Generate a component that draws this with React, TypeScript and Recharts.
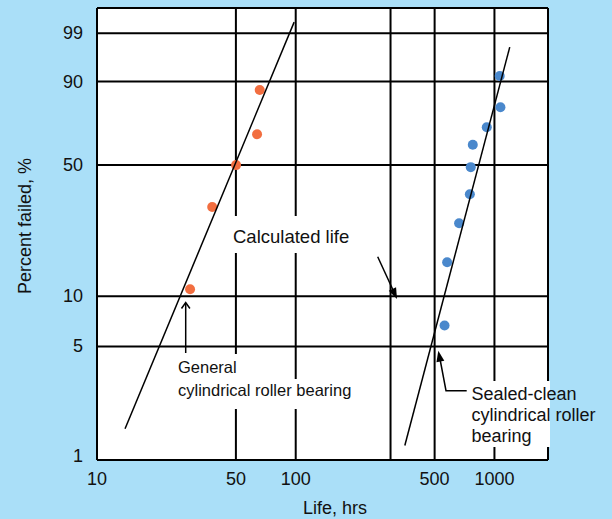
import { ComposedChart, Scatter, XAxis, YAxis, ReferenceLine, CartesianGrid } from 'recharts';

// Weibull probability transform, percent -> ln(-ln(1 - F))
const weib = (p: number) => Math.log(-Math.log(1 - p / 100));

const generalLife = [29.4, 38.0, 50.1, 63.9, 65.9];
const generalPct = [11, 31.6, 50, 66, 87];
const sealedLife = [561, 578, 664, 752, 760, 778, 915, 1072, 1063];
const sealedPct = [6.7, 15.8, 26, 36.6, 49, 60.5, 69.7, 79.6, 91.7];

const generalFitLife = [13.84, 98.2];
const generalFitPct = [1.56, 99.55];
const sealedFitLife = [354, 1194];
const sealedFitPct = [1.23, 97.7];

const xTicks = [10, 50, 100, 500, 1000];
const xGrid = [50, 100, 300, 500, 1000];
const yTicks = [1, 5, 10, 50, 90, 99];
const yGrid = [5, 10, 50, 90, 99];
const xDomain: [number, number] = [10, 1860];
const yDomain: [number, number] = [weib(1), weib(99.866)];

const FONT = '"Liberation Sans", Arial, sans-serif';

const toPoints = (life: number[], pct: number[]) => life.map((x, i) => ({ x, y: weib(pct[i]) }));

const generalData = toPoints(generalLife, generalPct);
const sealedData = toPoints(sealedLife, sealedPct);
const generalFit = toPoints(generalFitLife, generalFitPct);
const sealedFit = toPoints(sealedFitLife, sealedFitPct);

function arrowHead(x1: number, y1: number, x2: number, y2: number, len = 10, half = 4) {
  const dx = x2 - x1;
  const dy = y2 - y1;
  const d = Math.hypot(dx, dy);
  const ux = dx / d;
  const uy = dy / d;
  const bx = x2 - ux * len;
  const by = y2 - uy * len;
  return `${x2},${y2} ${bx - uy * half},${by + ux * half} ${bx + uy * half},${by - ux * half}`;
}

const dot = (color: string) => (props: any) => <circle cx={props.cx} cy={props.cy} r={5} fill={color} />;

const XTick = (props: any) => (
  <text x={props.x} y={479} textAnchor="middle" dominantBaseline="central" fontSize={18} fontFamily={FONT} fill="#111">
    {props.payload.value}
  </text>
);

const YTick = (props: any) => {
  const label = yTicks[props.index];
  return (
    <text x={83} y={props.y - (label === 1 ? 4 : 0)} textAnchor="end" dominantBaseline="central" fontSize={18} fontFamily={FONT} fill="#111">
      {label}
    </text>
  );
};

export default function App() {
  return (
    <div style={{ position: 'absolute', left: 0, top: 0, width: 612, height: 519, background: '#aadff8' }}>
      <ComposedChart width={612} height={519} margin={{ top: 8, right: 64, bottom: 29, left: 0 }}>
        <CartesianGrid horizontal={false} vertical={false} fill="#ffffff" fillOpacity={1} />
        <XAxis
          dataKey="x"
          type="number"
          scale="log"
          domain={xDomain}
          allowDataOverflow
          ticks={xTicks}
          height={30}
          axisLine={false}
          tickLine={false}
          tick={XTick}
        />
        <YAxis
          dataKey="y"
          type="number"
          domain={yDomain}
          allowDataOverflow
          ticks={yTicks.map(weib)}
          width={97}
          axisLine={false}
          tickLine={false}
          tick={YTick}
        />
        {yGrid.map((p) => (
          <ReferenceLine key={`h${p}`} y={weib(p)} stroke="#000" strokeWidth={2} />
        ))}
        {xGrid.map((v) => (
          <ReferenceLine key={`v${v}`} x={v} stroke="#000" strokeWidth={2} />
        ))}
        <ReferenceLine x={xDomain[0]} stroke="#000" strokeWidth={2} />
        <ReferenceLine x={xDomain[1]} stroke="#000" strokeWidth={2} />
        <ReferenceLine y={yDomain[0]} stroke="#000" strokeWidth={2} />
        <ReferenceLine y={yDomain[1]} stroke="#000" strokeWidth={2} />
        <Scatter data={generalData} shape={dot('#f26e40')} isAnimationActive={false} />
        <Scatter data={sealedData} shape={dot('#4a88cc')} isAnimationActive={false} />
        <Scatter data={generalFit} line={{ stroke: '#000', strokeWidth: 1.5 }} shape={() => <g />} isAnimationActive={false} />
        <Scatter data={sealedFit} line={{ stroke: '#000', strokeWidth: 1.5 }} shape={() => <g />} isAnimationActive={false} />
      </ComposedChart>

      <svg width={612} height={519} style={{ position: 'absolute', left: 0, top: 0, pointerEvents: 'none' }} fontFamily={FONT}>
        {/* Calculated life */}
        <rect x={226} y={216} width={130} height={37} fill="#fff" />
        <text x={233} y={243} fontSize={18.5} fill="#111">Calculated life</text>
        <line x1={377.7} y1={256.7} x2={393} y2={290} stroke="#000" strokeWidth={1.5} />
        <polygon points={arrowHead(377.7, 256.7, 397, 299, 11, 4)} fill="#000" />

        {/* General cylindrical roller bearing */}
        <rect x={175} y={354} width={66} height={26} fill="#fff" />
        <rect x={175} y={379} width={181} height={30} fill="#fff" />
        <text x={178} y={373} fontSize={16.5} fill="#111">General</text>
        <text x={178} y={396} fontSize={16.5} fill="#111">cylindrical roller bearing</text>
        <line x1={185.7} y1={353} x2={185.7} y2={303} stroke="#000" strokeWidth={1.5} />
        <polyline points="181.5,308.5 185.7,302.5 189.9,308.5" fill="none" stroke="#000" strokeWidth={1.5} />

        {/* Sealed-clean cylindrical roller bearing */}
        <rect x={466} y={381} width={84} height={66} fill="#fff" />
        <text x={471.5} y={400} fontSize={18} fill="#111">Sealed-clean</text>
        <text x={471.5} y={421} fontSize={18} fill="#111">cylindrical roller</text>
        <text x={471.5} y={442} fontSize={18} fill="#111">bearing</text>
        <polyline points="466.7,390.7 446,390.7 440,359" fill="none" stroke="#000" strokeWidth={1.5} />
        <polygon points={arrowHead(446, 390.7, 438.3, 350.7, 11, 4)} fill="#000" />

        {/* axis titles */}
        <text x={335} y={514} textAnchor="middle" fontSize={18} fill="#111">Life, hrs</text>
        <text transform="translate(31,226) rotate(-90)" textAnchor="middle" fontSize={18} fill="#111">Percent failed, %</text>
      </svg>
    </div>
  );
}
